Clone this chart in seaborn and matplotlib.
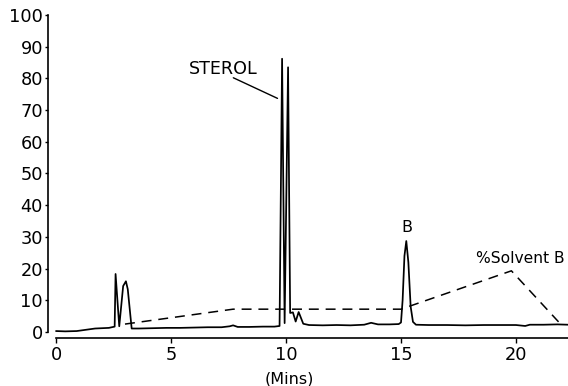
import numpy as np
import pandas as pd
import matplotlib
matplotlib.use("Agg")
import matplotlib.pyplot as plt
import seaborn as sns

# Detector trace (% of full scale) against retention time (min)
trace_t = [0.0, 0.4, 0.9, 1.4, 1.7, 2.0, 2.3, 2.55, 2.59, 2.75, 2.92, 3.04, 3.12, 3.29,
           3.6, 4.2, 4.8, 5.4, 6.0, 6.6, 7.2, 7.55, 7.7, 7.9, 8.4, 9.0, 9.5, 9.72,
           9.83, 9.94, 10.09, 10.18, 10.3, 10.42, 10.55, 10.75, 11.0, 11.6, 12.2,
           12.8, 13.4, 13.7, 14.0, 14.5, 14.9, 15.0, 15.07, 15.15, 15.23, 15.32,
           15.42, 15.52, 15.65, 16.2, 17.0, 17.8, 18.6, 19.4, 20.0, 20.4, 20.6,
           21.2, 21.8, 22.26]
trace_v = [0.3, 0.2, 0.3, 0.8, 1.1, 1.2, 1.3, 1.7, 18.3, 1.8, 14.5, 16.0, 13.5, 1.1,
           1.1, 1.2, 1.3, 1.3, 1.4, 1.5, 1.5, 1.8, 2.1, 1.6, 1.6, 1.7, 1.7, 1.9,
           86.2, 2.8, 83.5, 6.0, 6.2, 3.3, 6.3, 2.6, 2.2, 2.1, 2.2,
           2.1, 2.3, 2.9, 2.4, 2.4, 2.5, 3.0, 10.0, 24.0, 28.7, 22.0,
           8.0, 3.2, 2.3, 2.2, 2.2, 2.1, 2.2, 2.2, 2.2, 1.9, 2.3,
           2.3, 2.4, 2.3]

# Gradient programme: % solvent B
solvent_t = [3.0, 7.7, 15.0, 19.8, 21.85]
solvent_v = [2.5, 7.2, 7.2, 19.3, 3.2]

x_ticks = [0, 5, 10, 15, 20]
y_ticks = list(range(0, 101, 10))

trace = pd.DataFrame({"t": trace_t, "v": trace_v})
solvent = pd.DataFrame({"t": solvent_t, "v": solvent_v})

sns.set_theme(style="ticks")
plt.rcParams["font.family"] = ["DejaVu Sans"]

W, H = 568, 386
fig = plt.figure(figsize=(W / 100, H / 100), dpi=100)
left_px, right_px, bottom_px, top_px = 47.5, 568, 338, 15
ax = fig.add_axes([left_px / W, 1 - bottom_px / H,
                   (right_px - left_px) / W, (bottom_px - top_px) / H])

sns.lineplot(data=trace, x="t", y="v", ax=ax, sort=False, estimator=None,
             color="black", linewidth=1.25)
sns.lineplot(data=solvent, x="t", y="v", ax=ax, sort=False, estimator=None,
             color="black", linewidth=1.1, dashes=False)
ax.lines[-1].set_dashes((6.5, 4.5))

px_per_min = 23.0
x0 = -(56 - left_px) / px_per_min
x1 = (right_px - 56) / px_per_min
ax.set_xlim(x0, x1)
ax.set_ylim(-6 / 3.17, 100)

for s in ("top", "right"):
    ax.spines[s].set_visible(False)
ax.spines["left"].set_bounds(0, 100)
ax.spines["bottom"].set_bounds(0, x1)
for s in ("left", "bottom"):
    ax.spines[s].set_linewidth(1.2)
    ax.spines[s].set_color("black")

ax.set_xticks(x_ticks)
ax.set_yticks(y_ticks)
ax.set_xticklabels([str(v) for v in x_ticks])
ax.set_yticklabels([str(v) for v in y_ticks])
ax.tick_params(axis="y", length=2.5, width=1.0, pad=0.8, labelsize=12.8,
               colors="black", direction="out")
ax.tick_params(axis="x", length=3.5, width=1.0, pad=2.5, labelsize=12.8,
               colors="black", direction="out")
ax.set_xlabel("")
ax.set_ylabel("")

# Peak labels
ax.text(7.28, 83.1, "STEROL", ha="center", va="center", fontsize=12.6,
        color="black")
ax.plot([7.71, 9.63], [80.2, 73.7], color="black", linewidth=1.0)
ax.text(15.24, 33.0, "B", ha="center", va="center", fontsize=11.5, color="black")
ax.text(20.2, 23.3, "%Solvent B", ha="center", va="center", fontsize=11.2,
        color="black", clip_on=False)

fig.text(289 / W, 1 - 379 / H, "(Mins)", ha="center", va="center",
         fontsize=11.5, color="black")

fig.savefig("out.png", dpi=100, facecolor="white")
